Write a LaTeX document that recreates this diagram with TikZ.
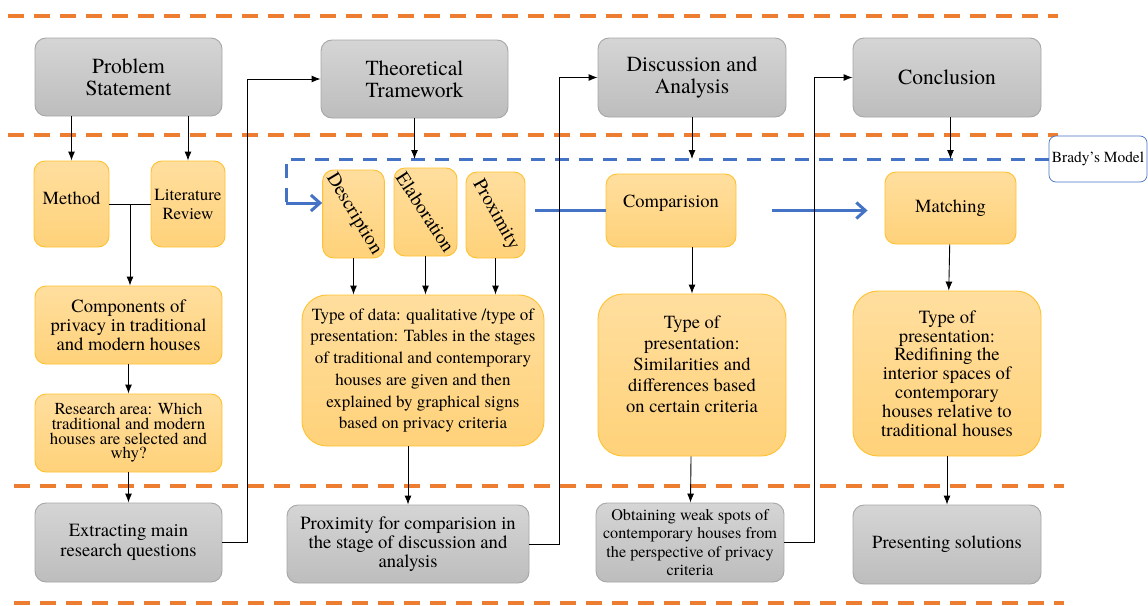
\documentclass[tikz,border=0pt]{standalone}
\usepackage{fontspec}
\setmainfont{texgyretermes}[Extension=.otf,UprightFont=*-regular,BoldFont=*-bold,ItalicFont=*-italic,BoldItalicFont=*-bolditalic]
\usepackage{graphicx}
\usetikzlibrary{calc}
\usetikzlibrary{arrows.meta}

\definecolor{sepor}{HTML}{ED7D31}
\definecolor{bmod}{HTML}{4472C4}
\definecolor{gtop}{HTML}{D5D5D5}
\definecolor{gbot}{HTML}{BDBDBD}
\definecolor{gline}{HTML}{A6A6A6}
\definecolor{otop}{HTML}{FFDE9E}
\definecolor{obot}{HTML}{FFD27A}
\definecolor{oline}{HTML}{FFC12E}

\begin{document}
\begin{tikzpicture}[x=1pt,y=-1pt,line width=0.9pt,>={Latex[length=9pt,width=7pt]},
	sz/.style n args={2}{minimum width=#1pt,minimum height=#2pt},
	gbox/.style={draw=gline,top color=gtop,bottom color=gbot,rounded corners=11pt,align=center,inner sep=0pt},
	obox/.style={draw=oline,top color=otop,bottom color=obot,rounded corners=11pt,align=center,inner sep=0pt},
	big/.style={rounded corners=25pt},
	ft/.style={font=\fontsize{21.5}{22}\selectfont},
	fn/.style={font=\fontsize{18.5}{20}\selectfont},
	fr/.style={font=\fontsize{19.5}{20}\selectfont},
	sep/.style={draw=sepor,line width=3.5pt,dash pattern=on 16pt off 10pt},
	bdash/.style={draw=bmod,line width=3pt,dash pattern=on 14pt off 10pt},
	bline/.style={draw=bmod,line width=3pt},
	barb/.style={-{Straight Barb[length=9pt,width=16pt]}}]
	\useasboundingbox (0,0) rectangle (1148,605);
	\foreach \ya/\xa/\xb in {16/8/1058,135/8/1058,486/14/1064,603/14/1064}
		\draw[sep] (\xa,\ya) -- (\xb,\ya);

	\node[gbox,ft,sz={187}{78}] (ps) at (128.5,77) {Problem\\Statement};
	\node[gbox,ft,sz={187}{78}] (tf) at (414.5,79) {Theoretical\\Tramework};
	\node[gbox,ft,sz={188}{79}] (da) at (692,77.5) {Discussion and\\Analysis};
	\node[gbox,ft,sz={188}{79}] (co) at (947,77.5) {Conclusion};

	\node[obox,fn,sz={75}{86}] (meth) at (71.5,204) {\raisebox{6pt}[\height][\depth]{Method}};
	\node[obox,sz={74}{86},font=\fontsize{17}{19}\selectfont] (lit) at (188,204) {Literature\\Review};
	\node[obox,fr,sz={61}{88}] (desc) at (353.5,214) {\rotatebox{-59}{Description}};
	\node[obox,fr,sz={63}{88}] (elab) at (425.5,212) {\rotatebox{-57}{Elaboration}};
	\node[obox,fr,sz={59}{86}] (prox) at (495.5,215) {\rotatebox{-61}{Proximity}};
	\node[obox,fn,sz={130}{73}] (cmp) at (671,210.5) {\raisebox{7pt}[\height][\depth]{Comparision}};
	\node[obox,fn,sz={131}{72}] (mat) at (950.5,208) {Matching};
	\node[draw=bmod,fill=white,line width=0.7pt,rounded corners=7pt,sz={98}{46},inner sep=0pt,font=\fontsize{15.4}{17}\selectfont] (brady) at (1098,159) {Brady’s Model};

	\node[obox,fn,sz={187}{78},font=\fontsize{18.6}{19}\selectfont] (priv) at (128.5,325) {Components of\\privacy in traditional\\and modern houses};
	\node[obox,sz={187}{78},font=\fontsize{16.8}{14.7}\selectfont] (area) at (128.5,433) {Research area: Which\\traditional and modern\\houses are selected and\\why?};
	\node[obox,big,sz={242}{151},font=\fontsize{17}{21.7}\selectfont] (data) at (423,370.5) {Type of data: qualitative /type of\\presentation: Tables in the stages\\of traditional and contemporary\\houses are given and then\\explained by graphical signs\\based on privacy criteria};
	\node[obox,big,sz={188}{162},font=\fontsize{18.5}{21}\selectfont] (sim) at (692,375) {Type of\\presentation:\\Similarities and\\differences based\\on certain criteria\\\mbox{}};
	\node[obox,big,sz={188}{165},font=\fontsize{18.6}{18.8}\selectfont] (red) at (947,373.5) {Type of\\presentation:\\Redifining the\\interior spaces of\\contemporary\\houses relative to\\traditional houses};

	\node[gbox,sz={187}{79},font=\fontsize{18.6}{20.7}\selectfont] (extr) at (128.5,542.5) {Extracting main\\research questions};
	\node[gbox,sz={242}{78},font=\fontsize{18.6}{19.2}\selectfont] (pcmp) at (408,544) {Proximity for comparision in\\the stage of discussion and\\analysis};
	\node[gbox,sz={188}{79},font=\fontsize{16.2}{18.3}\selectfont] (weak) at (690,542.5) {Obtaining weak spots of\\contemporary houses from\\the perspective of privacy\\criteria};
	\node[gbox,fn,sz={188}{79}] (sol) at (947,544.5) {Presenting solutions};

	\coordinate (bk) at (286,203);
	\draw[bdash] (brady.west) -| (bk);
	\draw[bline,barb] (bk) -- (bk -| desc.west);
	\draw[bline,shorten <=10pt] (prox.east |- cmp.west) -- (cmp.west);
	\draw[bline,barb,shorten <=36pt,shorten >=17pt] (cmp.east) -- (cmp.east -| mat.west);

	\draw[->] (ps.south -| meth) -- (meth);
	\draw[->] (ps.south -| lit) -- (lit);
	\coordinate (mid) at ($(meth.east)!0.5!(lit.west)$);
	\draw (meth.east) -- (lit.west);
	\draw[->] (mid) -- (mid |- priv.north);
	\draw[->] (priv) -- (area);
	\draw[->] (area) -- (extr);
	\draw[->] (extr.east) -- ++(25,0) |- (tf.west);
	\draw[->] (tf) -- (tf |- brady.west);
	\foreach \n in {desc,elab,prox}
		\draw[->] (\n) -- (\n |- data.north);
	\draw[->] (data.south -| pcmp) -- (pcmp);
	\draw[->] (pcmp.east) -- ++(30,0) |- (da.west);
	\draw[->] (da) -- (da |- brady.west);
	\draw[->] (cmp.south -| sim) -- (sim);
	\draw[->] (sim) -- (weak);
	\draw[->] (weak.east) -- ++(30,0) |- (co.west);
	\draw[->] (co.south -| mat) -- (mat |- brady.west);
	\draw[->] (mat) -- (red);
	\draw[->] (red) -- (sol);
\end{tikzpicture}
\end{document}
